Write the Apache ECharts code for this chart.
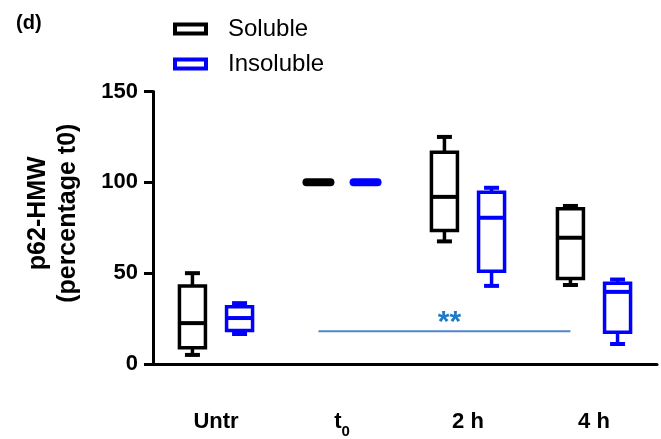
<!DOCTYPE html>
<html>
<head>
<meta charset="utf-8">
<script src="https://cdn.jsdelivr.net/npm/echarts@6/dist/echarts.min.js"></script>
<style>html,body{margin:0;padding:0;background:#fff;}#c{width:661px;height:439px;}</style>
</head>
<body>
<div id="c"></div>
<script>
// ---- data ----
var categories = ['Untr', 't0', '2 h', '4 h'];
var yTicks = [0, 50, 100, 150];
// [categoryIndex, min, q1, median, q3, max]
var soluble = [
  [0, 5, 9, 22.5, 43, 50],
  [1, 100, 100, 100, 100, 100],
  [2, 67.5, 73.5, 92, 116.5, 125],
  [3, 43.5, 47, 69.5, 85.5, 87]
];
var insoluble = [
  [0, 16.5, 18.5, 25.3, 31.5, 33.5],
  [1, 100, 100, 100, 100, 100],
  [2, 43, 51, 80.5, 94.5, 97],
  [3, 11, 17.5, 39.7, 44.5, 46.5]
];
var significance = [[1, 3, 18, '**']]; // from category, to category, y value, label

var chart = echarts.init(document.getElementById('c'), null, {renderer: 'canvas'});
var FONT = '"Liberation Sans", Arial, sans-serif';
var SOL_OFF = -0.187, INS_OFF = 0.187;

function makeBox(offFrac, color) {
  return function (params, api) {
    var cat = api.value(0);
    var band = api.size([1, 0])[0];
    var cx = api.coord([cat, 0])[0] + offFrac * band;
    var yMin = api.coord([cat, api.value(1)])[1];
    var yQ1 = api.coord([cat, api.value(2)])[1];
    var yMed = api.coord([cat, api.value(3)])[1];
    var yQ3 = api.coord([cat, api.value(4)])[1];
    var yMax = api.coord([cat, api.value(5)])[1];
    var hw = 13, cw = 7.5;
    var lw = 3.5;
    var st = {stroke: color, lineWidth: lw, fill: null};
    var children = [];
    if (Math.abs(yQ1 - yQ3) < 0.5) {
      children.push({type: 'line', shape: {x1: cx - 12, y1: yMed, x2: cx + 12, y2: yMed},
        style: {stroke: color, lineWidth: 8, lineCap: 'round'}});
    } else {
      children.push({type: 'line', shape: {x1: cx, y1: yMax, x2: cx, y2: yQ3}, style: st});
      children.push({type: 'line', shape: {x1: cx, y1: yQ1, x2: cx, y2: yMin}, style: st});
      children.push({type: 'line', shape: {x1: cx - cw, y1: yMax, x2: cx + cw, y2: yMax}, style: {stroke: color, lineWidth: 4}});
      children.push({type: 'line', shape: {x1: cx - cw, y1: yMin, x2: cx + cw, y2: yMin}, style: {stroke: color, lineWidth: 4}});
      children.push({type: 'rect', shape: {x: cx - hw, y: yQ3, width: 2 * hw, height: yQ1 - yQ3}, style: st});
      children.push({type: 'line', shape: {x1: cx - hw, y1: yMed, x2: cx + hw, y2: yMed}, style: {stroke: color, lineWidth: 4}});
    }
    return {type: 'group', children: children};
  };
}

var option = {
  animation: false,
  title: {text: '(d)', left: 11, top: 8, textStyle: {fontFamily: FONT, fontSize: 20, fontWeight: 'bold', color: '#000'}},
  legend: {
    orient: 'vertical', left: 168, top: 12, itemWidth: 31, itemHeight: 9, itemGap: 11,
    textStyle: {fontFamily: FONT, fontSize: 24, color: '#000', padding: [0, 0, 0, 17]},
    data: [
      {name: 'Soluble', icon: 'rect', itemStyle: {color: '#fff', borderColor: '#000', borderWidth: 4}},
      {name: 'Insoluble', icon: 'rect', itemStyle: {color: '#fff', borderColor: '#0000ff', borderWidth: 4}}
    ]
  },
  grid: {left: 153, right: 4, top: 91.5, bottom: 71.5},
  xAxis: {
    type: 'category', data: categories,
    axisLine: {lineStyle: {color: '#000', width: 3}},
    axisTick: {alignWithLabel: true, length: 8, lineStyle: {color: '#000', width: 3}},
    axisLabel: {
      interval: 0, margin: 47, color: '#000', fontFamily: FONT, fontSize: 22, fontWeight: 'bold',
      formatter: function (v) { return v === 't0' ? '{m|t}{s|0}' : '{m|' + v + '}'; },
      rich: {
        m: {fontFamily: FONT, fontSize: 22, fontWeight: 'bold', color: '#000', verticalAlign: 'bottom'},
        s: {fontFamily: FONT, fontSize: 15, fontWeight: 'bold', color: '#000', verticalAlign: 'bottom', padding: [0, 0, -6, 0]}
      }
    }
  },
  yAxis: {
    type: 'value', min: yTicks[0], max: yTicks[yTicks.length - 1], interval: 50,
    name: 'p62-HMW\n(percentage t0)', nameLocation: 'middle', nameGap: 70, nameRotate: 90,
    nameTextStyle: {fontFamily: FONT, fontSize: 25, fontWeight: 'bold', color: '#000', lineHeight: 30, padding: [0, 0, 0, 29]},
    axisLine: {show: true, lineStyle: {color: '#000', width: 3}},
    axisTick: {show: true, length: 9, lineStyle: {color: '#000', width: 3}},
    splitLine: {show: false},
    axisLabel: {margin: 15, color: '#000', fontFamily: FONT, fontSize: 22, fontWeight: 'bold'}
  },
  series: [
    {name: 'Soluble', type: 'custom', data: soluble, encode: {x: 0, y: [1, 2, 3, 4, 5]},
      itemStyle: {color: '#000'}, renderItem: makeBox(SOL_OFF, '#000')},
    {name: 'Insoluble', type: 'custom', data: insoluble, encode: {x: 0, y: [1, 2, 3, 4, 5]},
      itemStyle: {color: '#0000ff'}, renderItem: makeBox(INS_OFF, '#0000ff')},
    {name: 'sig', type: 'custom', data: significance, encode: {x: [0, 1], y: 2},
      renderItem: function (params, api) {
        var band = api.size([1, 0])[0];
        var x1 = api.coord([api.value(0), api.value(2)])[0] + SOL_OFF * band;
        var x2 = api.coord([api.value(1), api.value(2)])[0] + SOL_OFF * band;
        var y = api.coord([api.value(0), api.value(2)])[1];
        return {type: 'group', children: [
          {type: 'line', shape: {x1: x1, y1: y, x2: x2, y2: y}, style: {stroke: '#4f87c9', lineWidth: 2}},
          {type: 'text', style: {text: significance[params.dataIndex][3], x: (x1 + x2) / 2 + 5, y: y - 9,
            align: 'center', verticalAlign: 'middle', fill: '#1f7bc8',
            font: 'bold 30px ' + FONT}}
        ]};
      }}
  ]
};
chart.setOption(option);
</script>
</body>
</html>
